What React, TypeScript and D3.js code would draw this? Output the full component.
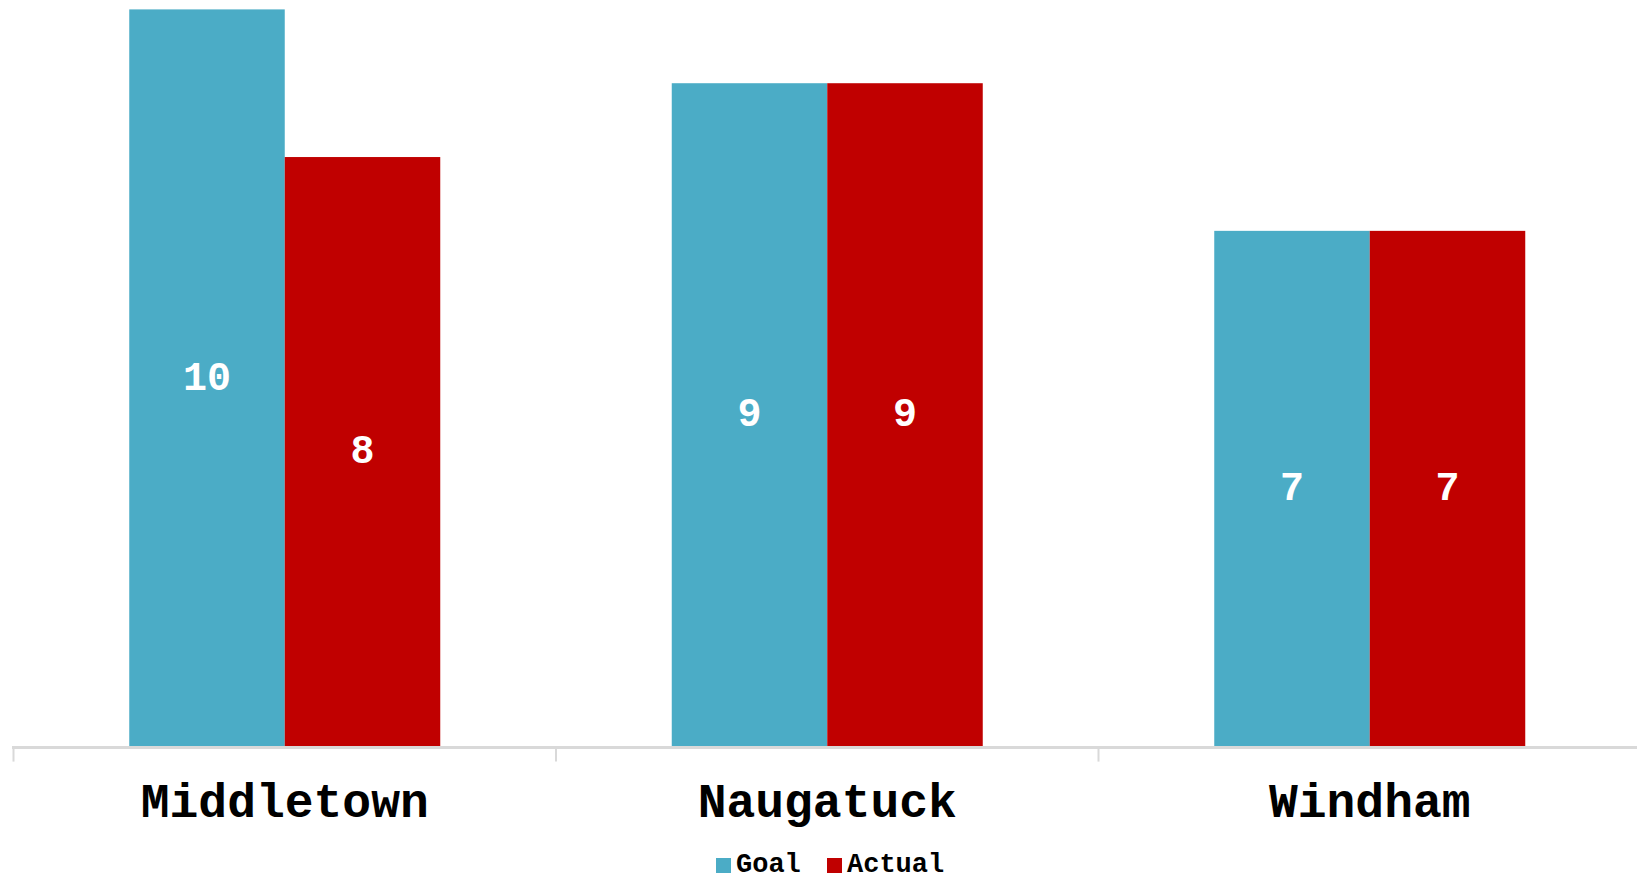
import React, { useEffect, useRef } from 'react';
import * as d3 from 'd3';

const categories = ['Middletown', 'Naugatuck', 'Windham'];
const seriesNames = ['Goal', 'Actual'];
const goalValues = [10, 9, 7];
const actualValues = [8, 9, 7];

const colors = ['#4BACC6', '#C00000'];
const font = '"Liberation Mono", "Courier New", monospace';

const App: React.FC = () => {
    const ref = useRef<SVGSVGElement>(null);

    useEffect(() => {
        const svg = d3.select(ref.current);
        svg.selectAll('*').remove();

        const width = 1637;
        const height = 881;
        const baseY = 747.6;

        const x = d3.scaleBand<string>().domain(categories).range([13.5, 1641]).paddingInner(0).paddingOuter(0);
        const inner = d3.scaleBand<string>().domain(seriesNames).range([0, 311]);
        const groupOffset = (x.bandwidth() - 311) / 2;
        const y = d3.scaleLinear().domain([0, 10]).range([baseY, 9.4]);

        const rows = categories.map((c, i) => ({ cat: c, vals: [goalValues[i], actualValues[i]] }));

        const g = svg.append('g');

        const groups = g.selectAll('.grp')
            .data(rows)
            .enter().append('g')
            .attr('transform', d => `translate(${(x(d.cat) as number) + groupOffset},0)`);

        groups.selectAll('rect')
            .data(d => d.vals.map((v, j) => ({ name: seriesNames[j], v, j })))
            .enter().append('rect')
            .attr('x', d => inner(d.name) as number)
            .attr('width', inner.bandwidth())
            .attr('y', d => y(d.v))
            .attr('height', d => baseY - y(d.v))
            .attr('fill', d => colors[d.j]);

        groups.selectAll('text.lbl')
            .data(d => d.vals.map((v, j) => ({ name: seriesNames[j], v, j })))
            .enter().append('text')
            .attr('class', 'lbl')
            .attr('x', d => (inner(d.name) as number) + inner.bandwidth() / 2)
            .attr('y', d => (y(d.v) + baseY) / 2 - 3)
            .attr('dy', '0.35em')
            .attr('text-anchor', 'middle')
            .attr('fill', '#fff')
            .attr('font-family', font)
            .attr('font-weight', 'bold')
            .attr('font-size', 40)
            .text(d => d.v);

        // axis
        const axis = g.append('g').attr('transform', `translate(0,${baseY})`)
            .call(d3.axisBottom(x).tickSize(0).tickPadding(0).tickFormat(() => ''));
        axis.select('.domain').remove();
        axis.append('line')
            .attr('x1', 12).attr('x2', width)
            .attr('stroke', '#D9D9D9').attr('stroke-width', 3);
        const edges = [...categories.map(c => x(c) as number), x.range()[1]];
        axis.selectAll('line.tk')
            .data(edges)
            .enter().append('line')
            .attr('class', 'tk')
            .attr('x1', d => d).attr('x2', d => d)
            .attr('y1', 0).attr('y2', 14)
            .attr('stroke', '#D9D9D9').attr('stroke-width', 2);

        g.selectAll('text.cat')
            .data(categories)
            .enter().append('text')
            .attr('class', 'cat')
            .attr('x', d => (x(d) as number) + x.bandwidth() / 2)
            .attr('y', 817)
            .attr('text-anchor', 'middle')
            .attr('font-family', font)
            .attr('font-weight', 'bold')
            .attr('font-size', 48)
            .attr('fill', '#000')
            .text(d => d);

        // legend
        const legendX = [716, 827];
        const legend = g.selectAll('.leg')
            .data(seriesNames)
            .enter().append('g')
            .attr('transform', (_d, i) => `translate(${legendX[i]},858)`);
        legend.append('rect')
            .attr('width', 15).attr('height', 15)
            .attr('fill', (_d, i) => colors[i]);
        legend.append('text')
            .attr('x', 20).attr('y', 14)
            .attr('font-family', font)
            .attr('font-weight', 'bold')
            .attr('font-size', 27)
            .attr('fill', '#000')
            .text(d => d);

        svg.attr('width', width).attr('height', height);
    }, []);

    return (
        <svg ref={ref} width={1637} height={881}
            style={{ position: 'absolute', left: 0, top: 0, background: '#fff' }} />
    );
};

export default App;
